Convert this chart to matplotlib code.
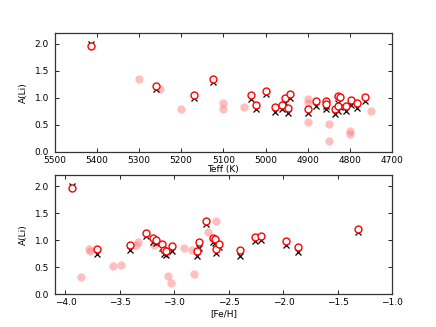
import matplotlib
matplotlib.use("Agg")
import matplotlib.pyplot as plt

# ---- Top panel: Teff ----
teff_pink = [5301, 5250, 5200, 5100, 5100, 5051, 4901, 4901, 4901, 4851, 4851, 4801, 4801, 4750]
li_pink_top = [1.344, 1.15, 0.796, 0.894, 0.796, 0.826, 0.974, 0.90, 0.543, 0.518, 0.196, 0.385, 0.325, 0.752]

teff_star = [5414, 5260, 5170, 5125, 5035, 5023, 4999, 4977, 4961, 4954, 4946, 4942,
             4901, 4882, 4857, 4857, 4837, 4828, 4824, 4828, 4810, 4798, 4784, 4765]
li_circ_top = [1.963, 1.21, 1.04, 1.344, 1.056, 0.87, 1.13, 0.82, 0.87, 0.993, 0.807, 1.074,
               0.796, 0.93, 0.937, 0.876, 0.789, 1.037, 1.006, 0.839, 0.839, 0.963, 0.894, 1.011]
li_cross_top = [2.00, 1.15, 1.00, 1.296, 0.98, 0.78, 1.074, 0.733, 0.789, 0.907, 0.715, 0.993,
                0.722, 0.839, 0.845, 0.796, 0.69, 0.907, 0.826, 0.76, 0.759, 0.87, 0.807, 0.93]

# ---- Bottom panel: [Fe/H] ----
feh_pink = [-3.86, -3.78, -3.77, -3.563, -3.49, -3.355, -3.33, -3.19, -3.065, -3.06, -3.03,
            -2.915, -2.84, -2.82, -2.69, -2.62]
li_pink_bot = [0.326, 0.839, 0.80, 0.53, 0.548, 0.913, 0.974, 0.913, 0.777, 0.339, 0.204,
               0.863, 0.815, 0.381, 1.16, 1.363]

feh_star = [-3.942, -3.71, -3.41, -3.26, -3.20, -3.17, -3.11, -3.10, -3.08, -3.02, -2.79, -2.774,
            -2.713, -2.646, -2.625, -2.618, -2.594, -2.40, -2.263, -2.203, -1.98, -1.863, -1.316]
li_circ_bot = [1.963, 0.839, 0.913, 1.13, 1.037, 1.006, 0.931, 0.82, 0.80, 0.894, 0.80, 0.974,
               1.357, 1.037, 1.018, 0.839, 0.931, 0.815, 1.067, 1.085, 0.993, 0.876, 1.215]
li_cross_bot = [2.00, 0.74, 0.815, 1.075, 0.974, 0.944, 0.85, 0.746, 0.73, 0.807, 0.70, 0.863,
                1.30, 0.974, 0.944, 0.759, 0.87, 0.715, 0.987, 1.006, 0.913, 0.789, 1.148]

yticks = [0.0, 0.5, 1.0, 1.5, 2.0]
teff_ticks = [5500, 5400, 5300, 5200, 5100, 5000, 4900, 4800, 4700]
feh_ticks = [-4.0, -3.5, -3.0, -2.5, -2.0, -1.5, -1.0]

plt.rcParams['font.family'] = ['DejaVu Sans']
fig, (ax1, ax2) = plt.subplots(2, 1, figsize=(4.36, 3.27), dpi=100)
fig.subplots_adjust(left=0.125, right=0.9, bottom=0.1, top=0.9, hspace=0.2)

def style(ax):
    ax.tick_params(direction='in', top=True, right=True, length=3, width=0.6,
                   labelsize=6.5)
    ax.tick_params(axis='y', pad=4)
    ax.tick_params(axis='x', pad=3)
    for s in ax.spines.values():
        s.set_linewidth(0.9)
        s.set_color('#333333')

# top
ax1.plot(teff_pink, li_pink_top, 'o', color='#ff8080', alpha=0.5, ms=6, mew=0, zorder=1)
ax1.plot(teff_star, li_cross_top, 'x', color='k', ms=4.5, mew=0.9, zorder=2)
ax1.plot(teff_star, li_circ_top, 'o', mfc='white', mec='red', ms=5, mew=1.0, zorder=3)
ax1.set_xlim(5500, 4700)
ax1.set_ylim(0, 2.2)
ax1.set_xticks(teff_ticks)
ax1.set_yticks(yticks)
ax1.set_xlabel('Teff (K)', fontsize=6.5, labelpad=0)
ax1.set_ylabel('A(Li)', fontsize=6.5, labelpad=5)
style(ax1)

# bottom
ax2.plot(feh_pink, li_pink_bot, 'o', color='#ff8080', alpha=0.5, ms=6, mew=0, zorder=1)
ax2.plot(feh_star, li_cross_bot, 'x', color='k', ms=4.5, mew=0.9, zorder=2)
ax2.plot(feh_star, li_circ_bot, 'o', mfc='white', mec='red', ms=5, mew=1.0, zorder=3)
ax2.set_xlim(-4.1, -1.0)
ax2.set_ylim(0, 2.2)
ax2.set_xticks(feh_ticks)
ax2.set_yticks(yticks)
ax2.set_xlabel('[Fe/H]', fontsize=6.5, labelpad=1)
ax2.set_ylabel('A(Li)', fontsize=6.5, labelpad=5)
style(ax2)

fig.savefig('out.png', dpi=100)
